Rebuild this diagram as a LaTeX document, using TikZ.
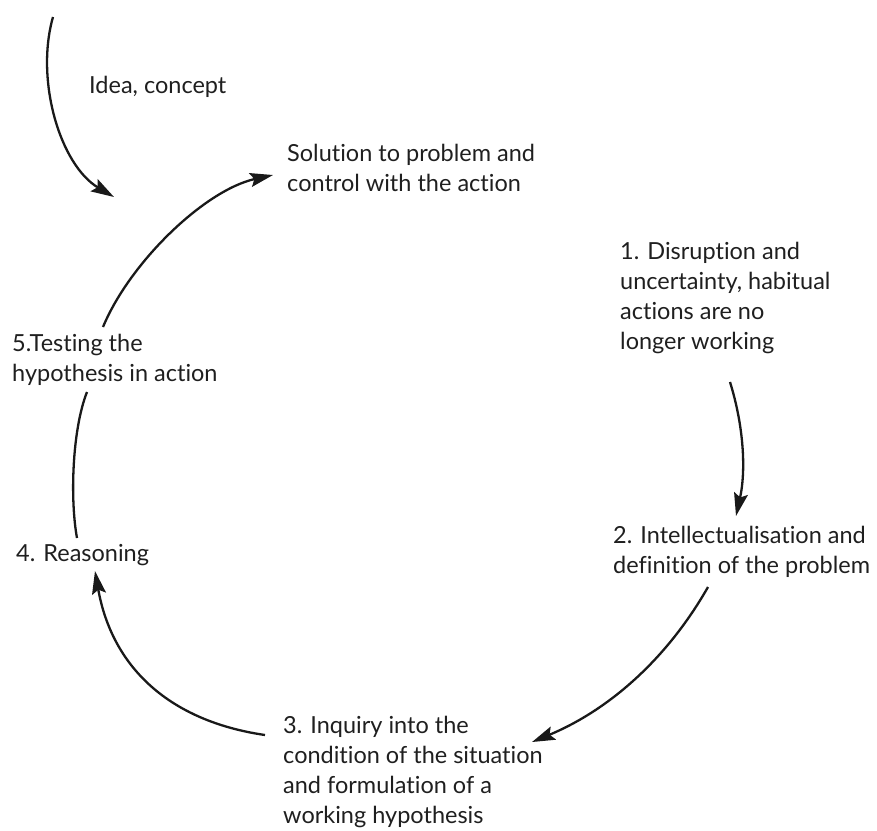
\documentclass[tikz,border=0pt]{standalone}
\usepackage{fontspec}
\setmainfont{Lato}[Ligatures={NoCommon,NoContextual}]
\usetikzlibrary{arrows.meta}
\begin{document}
\begin{tikzpicture}[x=1pt,y=-1pt,
  lbl/.style={font=\fontsize{23.5}{30}\selectfont, align=left, anchor=west, inner sep=0pt, text=black!88},
  arc/.style={line width=2.3pt, draw=black!90},
  arr/.style={arc, -{Stealth[length=23pt,width=14pt,inset=4pt]}}]
\useasboundingbox (0,0) rectangle (877,830);
% labels
\node[lbl] (idea) at (89,87) {Idea, concept};
\node[lbl] (sol) at (287,168) {Solution to problem and\\control with the action};
\node[lbl] (s1) at (620,298) {1. Disruption and\\uncertainty, habitual\\actions are no\\longer working};
\node[lbl] (s2) at (613,552) {2. Intellectualisation and\\definition of the problem};
\node[lbl] (s3) at (283,772) {3. Inquiry into the\\condition of the situation\\and formulation of a\\working hypothesis};
\node[lbl] (s4) at (16,555) {4. Reasoning};
\node[lbl] (s5) at (12,360) {5.Testing the\\hypothesis in action};
% connector ends
\coordinate (i0) at (53,17);
\coordinate (i1) at (114,197);
\coordinate (a0) at (103,327);
\coordinate (a1) at (273,175);
\coordinate (b0) at (87,392);
\coordinate (b1) at (77,538);
\coordinate (c0) at (265,735);
\coordinate (c1) at (95,571);
\coordinate (d0) at (708,587);
\coordinate (d1) at (532,742);
\coordinate (e0) at (730,382);
\coordinate (e1) at (736,516);
% connectors
\draw[arr] (i0) .. controls (35,80) and (60,165) .. (i1);
\draw[arr] (a0) .. controls (130,262) and (205,190) .. (a1);
\draw[arc] (b0) .. controls (72,430) and (70,500) .. (b1);
\draw[arr] (c0) .. controls (169,721) and (112,667) .. (c1);
\draw[arr] (d0) .. controls (667,659) and (609,710) .. (d1);
\draw[arr] (e0) .. controls (744,427) and (746,471) .. (e1);
\end{tikzpicture}
\end{document}
